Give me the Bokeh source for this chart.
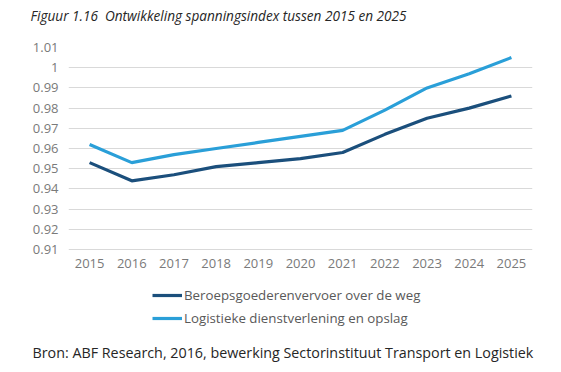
from bokeh.plotting import figure
from bokeh.models import Legend, LegendItem, FixedTicker, Range1d, Title
from bokeh.embed import file_html
from bokeh.resources import INLINE

years = [2015, 2016, 2017, 2018, 2019, 2020, 2021, 2022, 2023, 2024, 2025]
beroeps = [0.953, 0.944, 0.947, 0.951, 0.953, 0.955, 0.958, 0.967, 0.975, 0.980, 0.986]
logistiek = [0.962, 0.953, 0.957, 0.960, 0.963, 0.966, 0.969, 0.979, 0.990, 0.997, 1.005]
y_ticks = [0.91, 0.92, 0.93, 0.94, 0.95, 0.96, 0.97, 0.98, 0.99, 1.00, 1.01]
y_tick_labels = {0.91: "0.91", 0.92: "0.92", 0.93: "0.93", 0.94: "0.94", 0.95: "0.95",
                 0.96: "0.96", 0.97: "0.97", 0.98: "0.98", 0.99: "0.99", 1.00: "1", 1.01: "1.01"}
series_names = ["Beroepsgoederenvervoer over de weg", "Logistieke dienstverlening en opslag"]
title_text = "Figuur 1.16\u00a0 Ontwikkeling spanningsindex tussen 2015 en 2025"
source_text = "Bron: ABF Research, 2016, bewerking Sectorinstituut Transport en Logistiek"

FONT = "Open Sans"
DARK = "#1b4f7c"
LIGHT = "#2a9fd8"

# layout (pixels): plot area top 47, grid bottom 249, frame extended to 338 to hold the legend
TOP, GRID_BOTTOM, FRAME_BOTTOM = 47, 249, 338
y_top = y_ticks[-1]
y_start = y_top - (y_ticks[-1] - y_ticks[0]) * (FRAME_BOTTOM - TOP) / (GRID_BOTTOM - TOP)

p = figure(width=545, height=364, output_backend="svg", toolbar_location=None,
           x_range=Range1d(2014.5, 2025.5), y_range=Range1d(y_start, y_top),
           min_border_left=68, min_border_right=13, min_border_top=TOP,
           min_border_bottom=364 - FRAME_BOTTOM)
p.outline_line_color = None
p.background_fill_color = "white"
p.border_fill_color = "white"

p.xgrid.grid_line_color = None
p.ygrid.grid_line_color = "#d9d9d9"
p.ygrid.grid_line_width = 1

p.xaxis.ticker = FixedTicker(ticks=years)
p.xaxis.fixed_location = y_ticks[0]
p.yaxis.ticker = FixedTicker(ticks=y_ticks)
p.yaxis.major_label_overrides = y_tick_labels
for ax in (p.xaxis, p.yaxis):
    ax.axis_line_color = None
    ax.major_tick_line_color = None
    ax.minor_tick_line_color = None
    ax.major_tick_out = 0
    ax.major_tick_in = 0
    ax.major_label_text_font = FONT
    ax.major_label_text_font_size = "13px"
    ax.major_label_text_color = "#7a7a7a"
p.yaxis.major_label_standoff = 10
p.xaxis.major_label_standoff = 9

r1 = p.line(years, beroeps, line_color=DARK, line_width=3.2)
r2 = p.line(years, logistiek, line_color=LIGHT, line_width=3.2)

# a trailing blank line lifts the title towards the top edge, as in the reference
p.add_layout(Title(text=title_text + "\n ", align="left", offset=-38, standoff=7,
                   text_font=FONT, text_font_style="italic", text_font_size="13.6px",
                   text_color="#262626"), "above")

legend = Legend(items=[LegendItem(label=series_names[0], renderers=[r1]),
                       LegendItem(label=series_names[1], renderers=[r2])],
                location=(84, 10), orientation="vertical")
legend.glyph_width = 30
legend.glyph_height = 20
legend.spacing = 3
legend.padding = 0
legend.margin = 0
legend.label_standoff = 2
legend.label_text_font = FONT
legend.label_text_font_size = "13.3px"
legend.label_text_color = "#595959"
legend.border_line_color = None
legend.background_fill_alpha = 0
p.add_layout(legend, "center")

p.add_layout(Title(text=source_text, align="left", offset=-36, standoff=5,
                   text_font=FONT, text_font_size="14.3px", text_font_style="normal",
                   text_color="#262626"), "below")

open("out.html", "w").write(file_html(p, INLINE))
